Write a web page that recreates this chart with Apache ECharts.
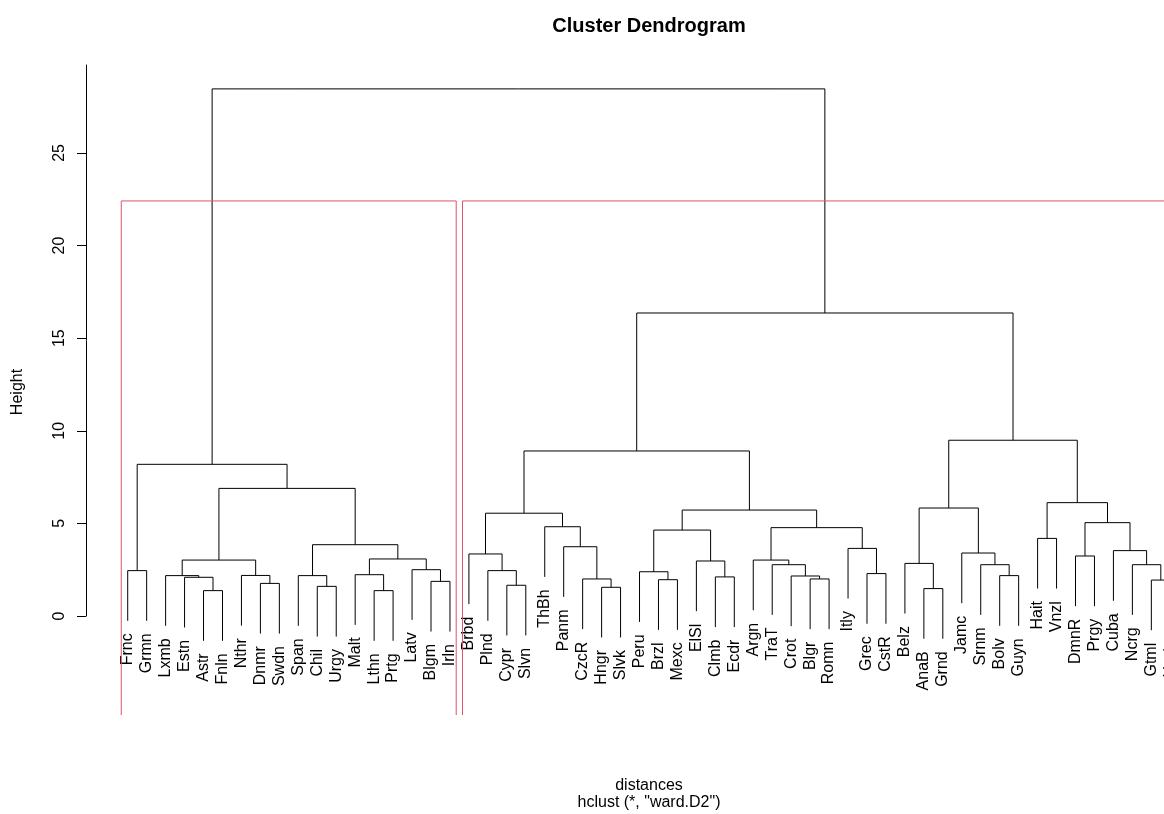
<!DOCTYPE html>
<html><head><meta charset="utf-8">
<script src="https://cdn.jsdelivr.net/npm/echarts@6/dist/echarts.min.js"></script>
<style>html,body{margin:0;padding:0;background:#fff}#chart{width:1164px;height:814px}</style>
</head><body><div id="chart"></div>
<script>
// ---- data (leaf order as drawn) ----
const labels = ["Frnc","Grmn","Lxmb","Estn","Astr","Fnln","Nthr","Dnmr","Swdn","Span","Chil","Urgy",
  "Malt","Lthn","Prtg","Latv","Blgm","Irln","Brbd","Plnd","Cypr","Slvn","ThBh","Panm","CzcR","Hngr",
  "Slvk","Peru","Brzl","Mexc","ElSl","Clmb","Ecdr","Argn","TraT","Crot","Blgr","Romn","Itly","Grec",
  "CstR","Belz","AnaB","Grnd","Jamc","Srnm","Bolv","Guyn","Hait","Vnzl","DmnR","Prgy","Cuba","Ncrg",
  "Gtml","Hndr"];
// merges: negative = leaf (1-based position), positive = earlier merge row (1-based)
const merges = [
  [-5,-6],[-4,1],[-3,2],[-8,-9],[-7,4],[3,5],[-11,-12],[-10,7],[-14,-15],[-13,9],
  [-17,-18],[-16,11],[10,12],[8,13],[6,14],[-1,-2],[16,15],
  [-21,-22],[-20,18],[-19,19],[-26,-27],[-25,21],[-24,22],[-23,23],[20,24],
  [-29,-30],[-28,26],[-32,-33],[-31,28],[27,29],
  [-37,-38],[-36,31],[-35,32],[-34,33],[-40,-41],[-39,35],[34,36],[30,37],[25,38],
  [-43,-44],[-42,40],[-47,-48],[-46,42],[-45,43],[41,44],
  [-49,-50],[-51,-52],[-55,-56],[-54,48],[-53,49],[47,50],[46,51],[45,52],[39,53],[17,54]
];
const heights = [
  1.37,2.09,2.18,1.76,2.19,3.02,1.60,2.18,1.37,2.23,
  1.87,2.50,3.08,3.85,6.89,2.45,8.19,
  1.66,2.45,3.35,1.55,2.00,3.74,4.82,5.55,
  1.96,2.39,2.11,2.97,4.64,
  2.00,2.16,2.77,3.02,2.29,3.65,4.77,5.72,8.91,
  1.48,2.84,2.18,2.77,3.40,5.83,
  4.19,3.24,1.94,2.77,3.53,5.04,6.12,9.49,16.36,28.46
];
const yTicks = [0,5,10,15,20,25];
const cutK = 2;
const titleText = "Cluster Dendrogram";
const yTitle = "Height";
const xTitle = "distances";
const subTitle = 'hclust (*, "ward.D2")';

// ---- layout ----
const FONT = '"Liberation Sans", Arial, Helvetica, sans-serif';
const n = labels.length;
const GRID = {left:86, top:65, width:1126, height:551, containLabel:false, outerBoundsMode:'none'};
const X_MIN = 1 - 0.04*(n-1), X_MAX = n + 0.04*(n-1);
const maxH = Math.max(...heights), minH = Math.min(...heights);
const Y_MAX = 29.75, Y_USR_BOTTOM = -5.35;
const hang = 0.1*(maxH - minH);

// node positions
const nodeX = [], nodeLo = [], nodeHi = [];
function childInfo(c){
  if (c < 0) { const i = -c; return {x:i, lo:i, hi:i, leaf:true}; }
  return {x:nodeX[c-1], y:heights[c-1], lo:nodeLo[c-1], hi:nodeHi[c-1], leaf:false};
}
const linkData = [], leafData = [];
merges.forEach((m, k) => {
  const h = heights[k];
  const a = childInfo(m[0]), b = childInfo(m[1]);
  const ya = a.leaf ? h - hang : a.y, yb = b.leaf ? h - hang : b.y;
  nodeX[k] = (a.x + b.x)/2; nodeLo[k] = Math.min(a.lo,b.lo); nodeHi[k] = Math.max(a.hi,b.hi);
  linkData.push([nodeX[k], h, a.x, ya, b.x, yb]);
  if (a.leaf) leafData.push([a.x, ya, a.x-1]);
  if (b.leaf) leafData.push([b.x, yb, b.x-1]);
});
// clusters for rect.hclust(k)
let groups = [merges.length];
while (groups.length < cutK) {
  groups.sort((p,q)=>heights[q-1]-heights[p-1]);
  const top = groups.shift();
  merges[top-1].forEach(c => groups.push(c));
}
const sortedH = heights.slice().sort((p,q)=>q-p);
const rectTop = (sortedH[cutK-2] + sortedH[cutK-1])/2;
const rectData = groups.map(g => {
  const lo = g < 0 ? -g : nodeLo[g-1], hi = g < 0 ? -g : nodeHi[g-1];
  return [lo - 0.34, hi + 0.33, rectTop];
});

const chart = echarts.init(document.getElementById('chart'), null, {renderer:'canvas'});
const cx = GRID.left + GRID.width/2;
chart.setOption({
  backgroundColor:'#fff',
  animation:false,
  grid: GRID,
  xAxis: {type:'value', min:X_MIN, max:X_MAX, show:false},
  yAxis: {type:'value', min:0, max:Y_MAX, interval:5,
    splitLine:{show:false},
    axisLine:{show:true, onZero:false, lineStyle:{color:'#000', width:1}},
    axisTick:{show:true, length:9, customValues:yTicks, lineStyle:{color:'#000', width:1}},
    axisLabel:{customValues:yTicks, rotate:90, margin:18, color:'#000', fontSize:16, fontFamily:FONT}
  },
  graphic: [
    {type:'text', x:cx, y:26, style:{text:titleText, font:'bold 20px '+FONT, fill:'#000', textAlign:'center', textVerticalAlign:'middle'}},
    {type:'text', x:18, y:392, rotation:Math.PI/2, style:{text:yTitle, font:'16px '+FONT, fill:'#000', textAlign:'center', textVerticalAlign:'middle'}},
    {type:'text', x:cx, y:786, style:{text:xTitle, font:'16px '+FONT, fill:'#000', textAlign:'center', textVerticalAlign:'middle'}},
    {type:'text', x:cx, y:803, style:{text:subTitle, font:'16px '+FONT, fill:'#000', textAlign:'center', textVerticalAlign:'middle'}}
  ],
  series: [
    {type:'custom', coordinateSystem:'cartesian2d', clip:false, data:linkData,
     encode:{x:0, y:1},
     renderItem:function(params, api){
       const h = api.value(1);
       const p1 = api.coord([api.value(2), api.value(3)]);
       const p2 = api.coord([api.value(2), h]);
       const p3 = api.coord([api.value(4), h]);
       const p4 = api.coord([api.value(4), api.value(5)]);
       return {type:'polyline', shape:{points:[p1,p2,p3,p4]}, style:{stroke:'#000', fill:null, lineWidth:1}};
     }},
    {type:'custom', coordinateSystem:'cartesian2d', clip:false, data:leafData,
     encode:{x:0, y:1},
     renderItem:function(params, api){
       const p = api.coord([api.value(0), api.value(1)]);
       const name = labels[api.value(2)];
       return {type:'text', x:p[0], y:p[1]+12.5, rotation:Math.PI/2,
         style:{text:name, font:'16px '+FONT, fill:'#000', textAlign:'right', textVerticalAlign:'middle'}};
     }},
    {type:'custom', coordinateSystem:'cartesian2d', clip:false, data:rectData,
     encode:{x:[0,1], y:2},
     renderItem:function(params, api){
       const l = api.value(0), r = api.value(1), t = api.value(2);
       const pts = [api.coord([l, Y_USR_BOTTOM]), api.coord([l, t]), api.coord([r, t]), api.coord([r, Y_USR_BOTTOM])];
       return {type:'polyline', shape:{points:pts}, style:{stroke:'#DF536B', fill:null, lineWidth:1}};
     }}
  ]
});
</script></body></html>
